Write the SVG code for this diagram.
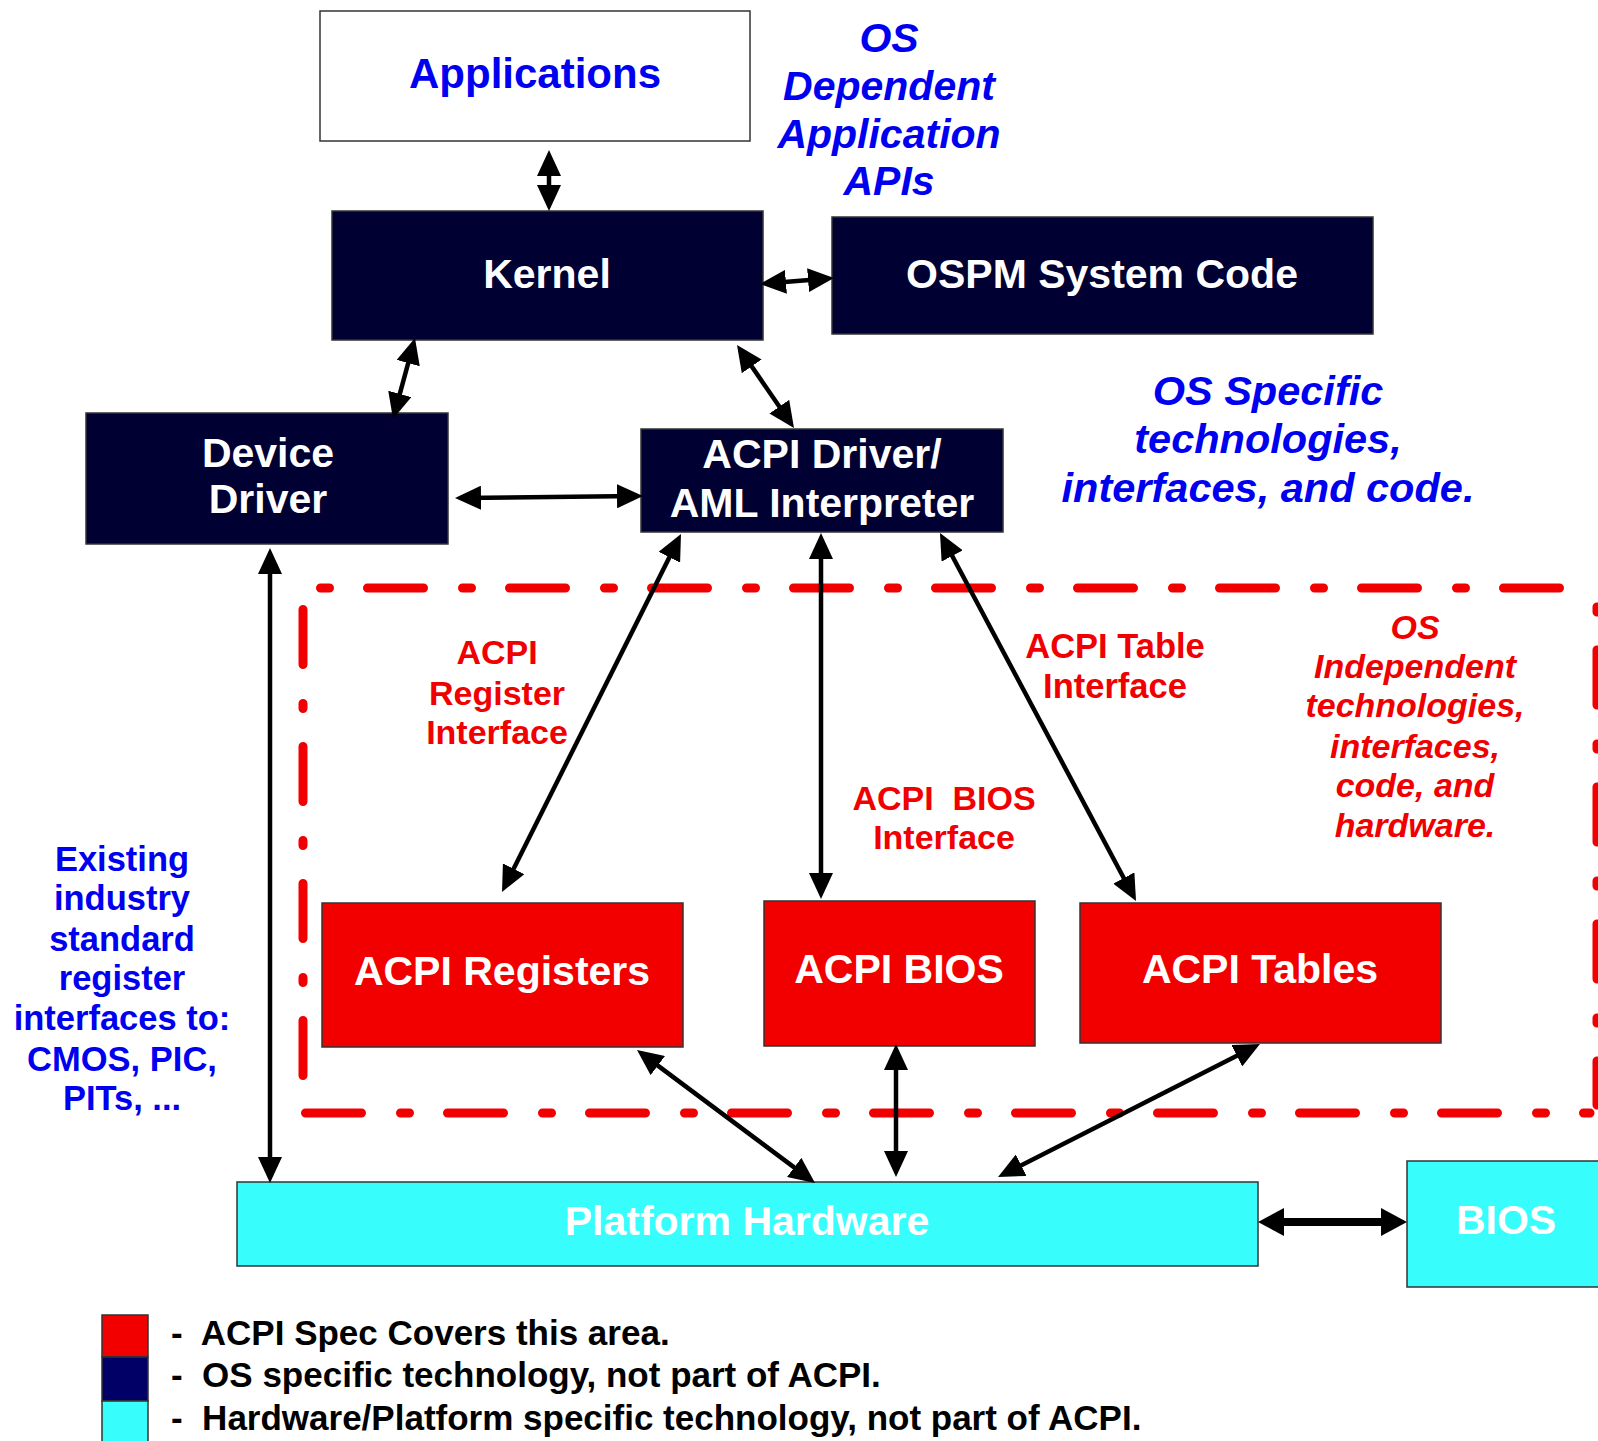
<svg xmlns="http://www.w3.org/2000/svg" width="1598" height="1441" viewBox="0 0 1598 1441">
<style>
text{font-family:"Liberation Sans",Arial,sans-serif;font-weight:bold;text-anchor:middle}
.w{fill:#ffffff;font-size:41px}
.blue{fill:#0000f0}
.red{fill:#f00000}
.it{font-style:italic}
.navy{fill:#000033;stroke:#333;stroke-width:1.5}
.rbox{fill:#f20000;stroke:#333;stroke-width:1.5}
.cyan{fill:#38fdfd;stroke:#333;stroke-width:1.5}
.conn line{stroke:#000;stroke-width:4.5;marker-start:url(#ah);marker-end:url(#ah)}
.bnd line{stroke:#f00000;stroke-width:9;stroke-linecap:round;fill:none}
.leg{fill:#000;font-size:35px;text-anchor:start}
</style>
<defs>
<marker id="ah" markerUnits="userSpaceOnUse" markerWidth="26" markerHeight="24" viewBox="0 0 26 24" refX="20" refY="12" orient="auto-start-reverse">
<path d="M0,0 L26,12 L0,24 z" fill="#000"/>
</marker>
<marker id="ah2" markerUnits="userSpaceOnUse" markerWidth="26" markerHeight="28" viewBox="0 0 26 28" refX="14" refY="14" orient="auto-start-reverse">
<path d="M0,0 L26,14 L0,28 z" fill="#000"/>
</marker>
</defs>
<rect width="1598" height="1441" fill="#ffffff"/>

<g id="boundary" class="bnd">
<line x1="320.5" y1="588" x2="1580" y2="588" stroke-dasharray="9 38 56 39"/>
<line x1="305.5" y1="1113" x2="1590" y2="1113" stroke-dasharray="56 39 9 38"/>
<line x1="303" y1="609.5" x2="303" y2="1080" stroke-dasharray="55 39 5 38"/>
<line x1="1597" y1="607" x2="1597" y2="1105" stroke-dasharray="5 38 55 39"/>
</g>

<g id="applications">
<rect x="320" y="11" width="430" height="130" fill="#ffffff" stroke="#333" stroke-width="1.5"/>
<text x="535" y="88" class="blue" font-size="42">Applications</text>
</g>
<g id="os-dependent-label">
<text class="blue it" font-size="41"><tspan x="889" y="52">OS</tspan><tspan x="889" y="100">Dependent</tspan><tspan x="889" y="148">Application</tspan><tspan x="889" y="195">APIs</tspan></text>
</g>
<g id="kernel">
<rect x="332" y="211" width="431" height="129" class="navy"/>
<text x="547" y="288" class="w">Kernel</text>
</g>
<g id="ospm">
<rect x="832" y="217" width="541" height="117" class="navy"/>
<text x="1102" y="288" class="w">OSPM System Code</text>
</g>
<g id="device-driver">
<rect x="86" y="413" width="362" height="131" class="navy"/>
<text class="w"><tspan x="268" y="467">Device</tspan><tspan x="268" y="513">Driver</tspan></text>
</g>
<g id="acpi-driver">
<rect x="641" y="429" width="362" height="103" class="navy"/>
<text class="w"><tspan x="822" y="468">ACPI Driver/</tspan><tspan x="822" y="517">AML Interpreter</tspan></text>
</g>
<g id="os-specific-label">
<text class="blue it" font-size="41.5"><tspan x="1268" y="405">OS Specific</tspan><tspan x="1268" y="453">technologies,</tspan><tspan x="1268" y="502">interfaces, and code.</tspan></text>
</g>
<g id="acpi-register-interface-label">
<text class="red" font-size="34"><tspan x="497" y="664">ACPI</tspan><tspan x="497" y="705">Register</tspan><tspan x="497" y="744">Interface</tspan></text>
</g>
<g id="acpi-table-interface-label">
<text class="red" font-size="34.5"><tspan x="1115" y="658">ACPI Table</tspan><tspan x="1115" y="698">Interface</tspan></text>
</g>
<g id="acpi-bios-interface-label">
<text class="red" font-size="34" xml:space="preserve"><tspan x="944" y="810">ACPI  BIOS</tspan><tspan x="944" y="849">Interface</tspan></text>
</g>
<g id="os-independent-label">
<text class="red it" font-size="34"><tspan x="1415" y="639">OS</tspan><tspan x="1415" y="678">Independent</tspan><tspan x="1415" y="717">technologies,</tspan><tspan x="1415" y="758">interfaces,</tspan><tspan x="1415" y="797">code, and</tspan><tspan x="1415" y="837">hardware.</tspan></text>
</g>
<g id="existing-label">
<text class="blue" font-size="34.5"><tspan x="122" y="871">Existing</tspan><tspan x="122" y="910">industry</tspan><tspan x="122" y="951">standard</tspan><tspan x="122" y="990">register</tspan><tspan x="122" y="1030">interfaces to:</tspan><tspan x="122" y="1071">CMOS, PIC,</tspan><tspan x="122" y="1110">PITs, ...</tspan></text>
</g>
<g id="acpi-registers">
<rect x="322" y="903" width="361" height="144" class="rbox"/>
<text x="502" y="985" class="w" font-size="41.5">ACPI Registers</text>
</g>
<g id="acpi-bios">
<rect x="764" y="901" width="271" height="145" class="rbox"/>
<text x="899" y="983" class="w">ACPI BIOS</text>
</g>
<g id="acpi-tables">
<rect x="1080" y="903" width="361" height="140" class="rbox"/>
<text x="1260" y="983" class="w">ACPI Tables</text>
</g>
<g id="platform-hardware">
<rect x="237" y="1182" width="1021" height="84" class="cyan"/>
<text x="747" y="1235" class="w" font-size="42">Platform Hardware</text>
</g>
<g id="bios">
<rect x="1407" y="1161" width="200" height="126" class="cyan"/>
<text x="1506" y="1234" class="w" font-size="33">BIOS</text>
</g>

<g id="connectors" class="conn">
<line x1="549" y1="156" x2="549" y2="205"/>
<line x1="766" y1="283.5" x2="828" y2="278.5"/>
<line x1="413.4" y1="343.8" x2="394.6" y2="413.2"/>
<line x1="740.4" y1="349.9" x2="790.6" y2="423.1"/>
<line x1="461" y1="497.9" x2="637" y2="496.1"/>
<line x1="270" y1="554" x2="270" y2="1177"/>
<line x1="678.3" y1="539.4" x2="504.7" y2="886.6"/>
<line x1="821" y1="539" x2="821" y2="893"/>
<line x1="942.8" y1="538.3" x2="1133.2" y2="895.7"/>
<line x1="641.8" y1="1053.6" x2="810.2" y2="1179.4"/>
<line x1="896" y1="1050" x2="896" y2="1171"/>
<line x1="1254.6" y1="1046.7" x2="1003.4" y2="1174.3"/>
<line x1="1270" y1="1222" x2="1395" y2="1222" style="stroke-width:8;marker-start:url(#ah2);marker-end:url(#ah2)"/>
</g>

<g id="legend">
<rect x="102" y="1315" width="46" height="42" fill="#f20000" stroke="#333" stroke-width="1.5"/>
<rect x="102" y="1357" width="46" height="44" fill="#000066" stroke="#333" stroke-width="1.5"/>
<rect x="102" y="1401" width="46" height="42" fill="#38fdfd" stroke="#333" stroke-width="1.5"/>
<text class="leg" x="171" y="1345" xml:space="preserve">-  ACPI Spec Covers this area.</text>
<text class="leg" x="171" y="1387" xml:space="preserve">-  OS specific technology, not part of ACPI.</text>
<text class="leg" x="171" y="1430" xml:space="preserve">-  Hardware/Platform specific technology, not part of ACPI.</text>
</g>
</svg>
